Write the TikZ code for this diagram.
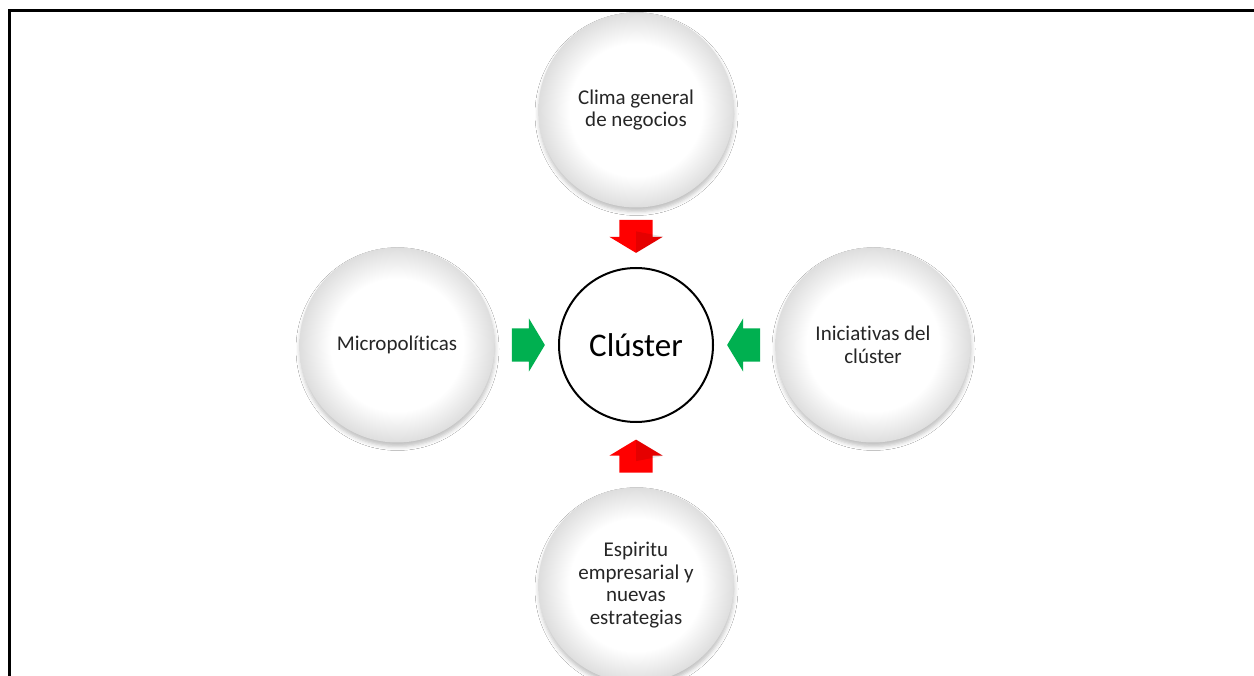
\documentclass[tikz,border=0pt]{standalone}
\usepackage{fontspec}
\setmainfont[Ligatures={NoCommon,NoContextual}]{Carlito}
\usetikzlibrary{shapes.arrows,shadows.blur,calc}
\pgfdeclareradialshading{softball}{\pgfpoint{0bp}{0bp}}{color(0bp)=(white); color(17bp)=(white); color(25bp)=(black!13); color(50bp)=(black!13)}
\begin{document}
\begin{tikzpicture}[x=1pt,y=-1pt,
  outer/.style={circle, minimum size=195pt, inner sep=0pt, shading=softball, align=center,
    font=\fontsize{21}{22.5}\selectfont, text=black!85,
    blur shadow={shadow xshift=0.5pt, shadow yshift=-4pt, shadow blur radius=4pt, shadow opacity=25}},
  core/.style={circle, draw=black, line width=2pt, fill=white, minimum size=154pt, inner sep=0pt,
    font=\fontsize{33}{38}\selectfont},
  blockarrow/.style={single arrow, minimum height=33pt,
    single arrow head extend=10pt, single arrow tip angle=118},
  harrow/.style={blockarrow, inner xsep=0pt, inner ysep=16.5pt},
  varrow/.style={blockarrow, inner xsep=16.5pt, inner ysep=0pt},
  redfill/.style={fill={rgb,255:red,255;green,0;blue,0}},
  greenfill/.style={fill={rgb,255:red,0;green,176;blue,80}},
  facet/.style={fill=black, opacity=0.10}
]
\useasboundingbox (0,0) rectangle (1254,676);
\fill[white] (0,0) rectangle (1254,676);
\draw[line width=3pt] (9.5,680) -- (9.5,10.5) -- (1260,10.5);

\node[outer] (top) at (636,110) {Clima general\\de negocios};
\node[outer] (left) at (397,345) {Micropolíticas};
\node[outer] (right) at (873,345) {Iniciativas del\\clúster};
\node[outer] (bottom) at (636,585) {Espiritu\\empresarial y\\nuevas\\estrategias};
\node[core] (core) at (636,345) {Clúster};

\node[varrow, redfill, shape border rotate=270, yshift=6pt] (atop) at ($(top.south)!0.5!(core.north)$) {};
\node[varrow, redfill, shape border rotate=90, yshift=-6pt] (abottom) at ($(bottom.north)!0.5!(core.south)$) {};
\node[harrow, greenfill, shape border rotate=0, xshift=-3pt] (aleft) at ($(left.east)!0.5!(core.west)$) {};
\node[harrow, greenfill, shape border rotate=180, xshift=4pt] (aright) at ($(right.west)!0.5!(core.east)$) {};

\fill[facet] (atop.tip) -- (atop.center) -- (atop.before tip) -- cycle;
\fill[facet] (abottom.tip) -- (abottom.center) -- (abottom.after tip) -- cycle;
\end{tikzpicture}
\end{document}
